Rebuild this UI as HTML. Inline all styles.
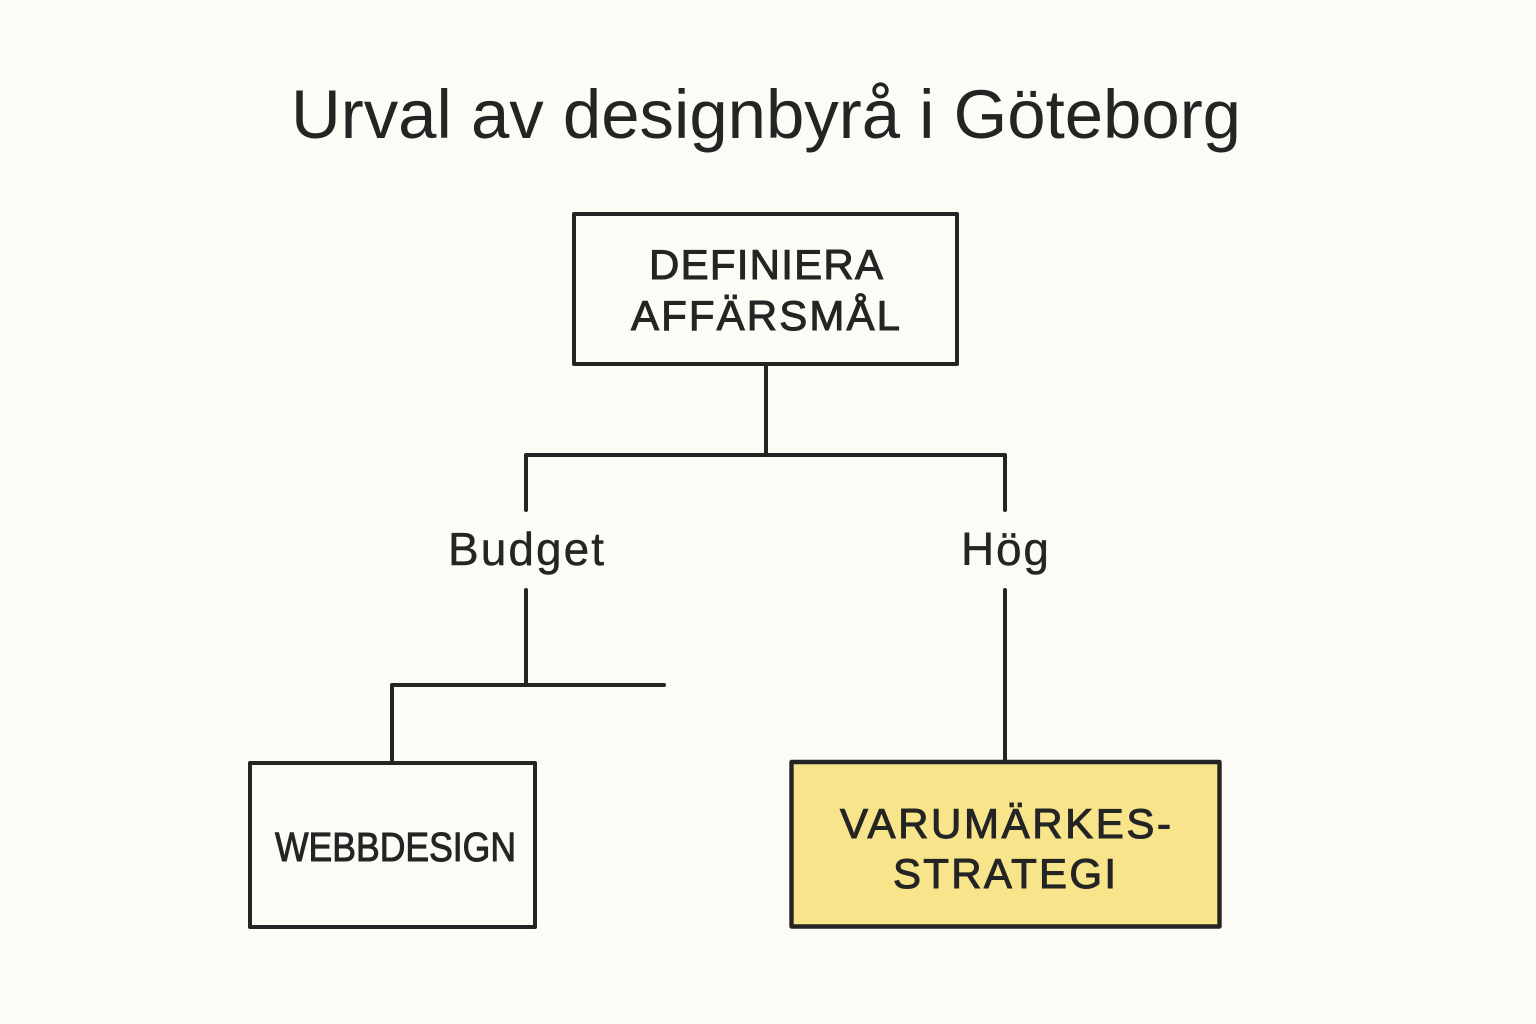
<!DOCTYPE html>
<html lang="sv">
<head>
<meta charset="utf-8">
<title>Urval av designbyrå i Göteborg</title>
<style>
html,body{margin:0;padding:0;width:1536px;height:1024px;background:#fdfbf6;overflow:hidden}
svg{display:block}
text{font-family:"Liberation Sans",sans-serif;fill:#242424}
.b{stroke:#242424;stroke-width:1px}
</style>
</head>
<body>
<svg width="1536" height="1024" viewBox="0 0 1536 1024" xmlns="http://www.w3.org/2000/svg">
<rect width="1536" height="1024" fill="#fdfbf6"/>
<text x="291" y="138" font-size="69" textLength="950" lengthAdjust="spacingAndGlyphs">Urval av designbyrå i Göteborg</text>
<g fill="none" stroke="#242424" stroke-width="4" stroke-linecap="round" stroke-linejoin="round">
<path d="M766 365V455M526 510V455H1005V510M526 590V685M392 761V685H664M1005 590V761"/>
<rect x="574" y="214" width="383" height="150"/>
<rect x="250" y="763" width="285" height="164"/>
<rect x="791.5" y="762" width="428" height="164.5" fill="#f8e48b" stroke-width="4.4"/>
</g>
<text class="b" x="649" y="279" font-size="42" textLength="234" lengthAdjust="spacing">DEFINIERA</text>
<text class="b" x="631" y="330" font-size="42" textLength="269" lengthAdjust="spacing">AFFÄRSMÅL</text>
<text class="b" style="stroke-width:.4px" x="448" y="565" font-size="46" textLength="156" lengthAdjust="spacing">Budget</text>
<text class="b" style="stroke-width:.4px" x="961" y="565" font-size="46" textLength="88" lengthAdjust="spacing">Hög</text>
<text class="b" x="275" y="861" font-size="41" textLength="241" lengthAdjust="spacingAndGlyphs">WEBBDESIGN</text>
<text class="b" x="840" y="838" font-size="42" textLength="331" lengthAdjust="spacing">VARUMÄRKES-</text>
<text class="b" x="893" y="888" font-size="42" textLength="223" lengthAdjust="spacing">STRATEGI</text>
</svg>
</body>
</html>
